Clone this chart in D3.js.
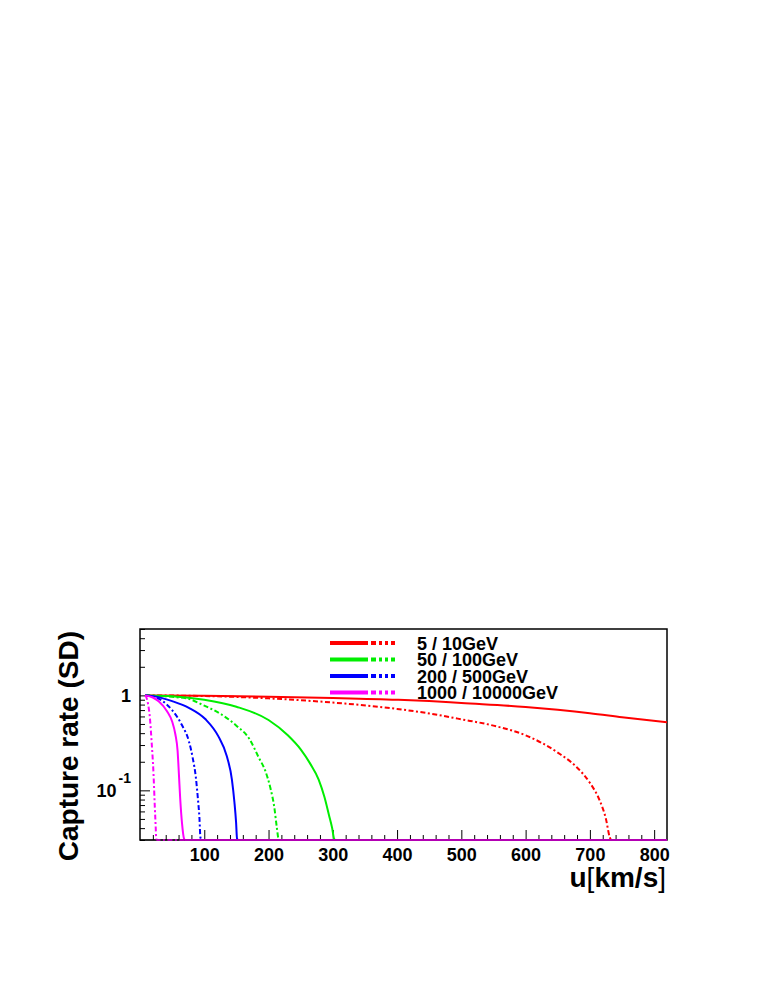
<!DOCTYPE html>
<html>
<head>
<meta charset="utf-8">
<script src="https://cdn.jsdelivr.net/npm/d3@7"></script>
<style>
  body { margin: 0; background: #fff; }
  svg { display: block; font-family: "Liberation Sans", Arial, Helvetica, sans-serif; }
</style>
</head>
<body>
<div id="chart"></div>
<script>
// legend entries: each line is "solid mass / dashed mass"
const legendLabels = ["5 / 10GeV", "50 / 100GeV", "200 / 500GeV", "1000 / 10000GeV"];

// u [km/s] and normalised capture rate (0 = kinematically forbidden)
const u5 = [8, 100, 200, 300, 400, 450, 500, 600, 650, 700, 750, 820];
const rate5 = [1, 0.99, 0.97, 0.94, 0.9, 0.87, 0.83, 0.755, 0.705, 0.65, 0.59, 0.52];

const u10 = [8, 100, 200, 300, 400, 450, 500, 550, 600, 650, 680, 700, 715, 725, 731, 734, 820];
const rate10 = [1, 0.985, 0.93, 0.84, 0.72, 0.645, 0.56, 0.48, 0.38, 0.25, 0.174, 0.12, 0.079, 0.05, 0.032, 0, 0];

const u50 = [8, 50, 100, 150, 200, 230, 250, 265, 278, 287, 294, 299, 302, 304, 820];
const rate50 = [1, 0.98, 0.9, 0.76, 0.55, 0.38, 0.27, 0.19, 0.13, 0.085, 0.055, 0.04, 0.031, 0, 0];

const u100 = [8, 50, 75, 100, 125, 150, 170, 185, 195, 203, 209, 213, 215.5, 218, 820];
const rate100 = [1, 0.965, 0.92, 0.78, 0.64, 0.48, 0.35, 0.22, 0.16, 0.105, 0.066, 0.04, 0.031, 0, 0];

const u200 = [8, 25, 50, 76, 102, 122, 135, 143, 147, 149.5, 151, 153, 820];
const rate200 = [1, 0.97, 0.87, 0.74, 0.56, 0.37, 0.23, 0.13, 0.074, 0.046, 0.031, 0, 0];

const u500 = [8, 25, 40, 50, 65, 76, 82, 87, 90, 92.5, 94, 96, 820];
const rate500 = [1, 0.95, 0.82, 0.7, 0.49, 0.33, 0.22, 0.135, 0.083, 0.051, 0.032, 0, 0];

const u1000 = [8, 20, 29, 42, 50, 55, 58.5, 60.5, 62.5, 65.5, 68.5, 70, 820];
const rate1000 = [1, 0.95, 0.865, 0.68, 0.53, 0.39, 0.26, 0.15, 0.083, 0.044, 0.031, 0, 0];

const u10000 = [8, 10, 12.7, 15.4, 18, 21, 23, 24.5, 25.2, 27, 820];
const rate10000 = [1, 0.95, 0.8, 0.58, 0.33, 0.15, 0.068, 0.04, 0.031, 0, 0];

// axis ticks
const xMajorTicks = [100, 200, 300, 400, 500, 600, 700, 800];
const yMajorTicks = [0.1, 1];
const yTickLabels = [["10", "-1"], ["1", ""]];

// styling
const colors = ["#ff0000", "#00ee00", "#0000ff", "#ff00ff"];
const dashPattern = "5,2.5,2,2.5";

const width = 758, height = 981;
const frame = {left: 140, right: 667, top: 629, bottom: 840};

const x = d3.scaleLinear().domain([0, 820]).range([frame.left, frame.right]);
const y = d3.scaleLog().domain([0.03, 5]).range([frame.bottom, frame.top]).clamp(true);
const yMin = y.domain()[0];

const svg = d3.select("#chart").append("svg")
    .attr("width", width)
    .attr("height", height)
    .style("background", "#fff");

svg.append("defs").append("clipPath").attr("id", "plot-clip")
    .append("rect")
    .attr("x", frame.left)
    .attr("y", frame.top)
    .attr("width", frame.right - frame.left)
    .attr("height", frame.bottom - frame.top + 1);

// frame first, curves go on top of it
svg.append("rect")
    .attr("x", frame.left)
    .attr("y", frame.top)
    .attr("width", frame.right - frame.left)
    .attr("height", frame.bottom - frame.top)
    .attr("fill", "none")
    .attr("stroke", "#000")
    .attr("stroke-width", 1.5);

// x ticks (ROOT style, pointing inwards)
let xMinor = d3.range(20, 820, 20).filter(v => v % 100 !== 0);

svg.append("g")
    .attr("transform", `translate(0,${frame.bottom})`)
    .call(d3.axisBottom(x).tickValues(xMinor).tickSize(-5).tickFormat(""))
    .call(g => g.select(".domain").remove());

svg.append("g")
    .attr("transform", `translate(0,${frame.bottom})`)
    .call(d3.axisBottom(x).tickValues(xMajorTicks).tickSize(-10).tickPadding(8).tickFormat(d3.format("d")))
    .call(g => g.select(".domain").remove())
    .call(g => g.selectAll("text")
        .attr("font-size", "18px")
        .attr("font-weight", "bold")
        .attr("font-family", "Liberation Sans, Arial, sans-serif")
        .attr("fill", "#000"));

// y ticks
let yMinor = [];
[0.01, 0.1, 1].forEach(dec => {
    for (let k = 2; k <= 9; k++) {
        let v = k * dec;
        if (v >= yMin && v <= 5.0001) yMinor.push(v);
    }
});

svg.append("g")
    .attr("transform", `translate(${frame.left},0)`)
    .call(d3.axisLeft(y).tickValues(yMinor).tickSize(-5).tickFormat(""))
    .call(g => g.select(".domain").remove());

let yAxisG = svg.append("g")
    .attr("transform", `translate(${frame.left},0)`)
    .call(d3.axisLeft(y).tickValues(yMajorTicks).tickSize(-10).tickPadding(9).tickFormat(""))
    .call(g => g.select(".domain").remove());

yAxisG.selectAll(".tick text")
    .attr("font-size", "18px")
    .attr("font-weight", "bold")
    .attr("font-family", "Liberation Sans, Arial, sans-serif")
    .attr("fill", "#000")
    .each(function(d, i) {
        let lab = yTickLabels[i];
        let t = d3.select(this);
        if (lab[1] === "") {
            t.text(lab[0]);
        } else {
            t.append("tspan").text(lab[0]);
            t.append("tspan").attr("dy", "-0.95em").attr("dx", "2").attr("font-size", "14px").text(lab[1]);
        }
    });

// curves in legend order: lightest first, heaviest (magenta) last
let curves = [
    {u: u5, r: rate5, color: colors[0], dashed: false},
    {u: u10, r: rate10, color: colors[0], dashed: true},
    {u: u50, r: rate50, color: colors[1], dashed: false},
    {u: u100, r: rate100, color: colors[1], dashed: true},
    {u: u200, r: rate200, color: colors[2], dashed: false},
    {u: u500, r: rate500, color: colors[2], dashed: true},
    {u: u1000, r: rate1000, color: colors[3], dashed: false},
    {u: u10000, r: rate10000, color: colors[3], dashed: true}
];

let line = d3.line()
    .x(d => x(d[0]))
    .y(d => y(Math.max(d[1], yMin)))
    .curve(d3.curveMonotoneX);

svg.append("g")
    .attr("clip-path", "url(#plot-clip)")
    .selectAll("path")
    .data(curves)
    .join("path")
    .attr("d", c => line(c.u.map((u, i) => [u, c.r[i]])))
    .attr("fill", "none")
    .attr("stroke", c => c.color)
    .attr("stroke-width", 2)
    .attr("stroke-dasharray", c => c.dashed ? dashPattern : null);

// bottom axis line shows through the clamped curves
svg.append("line")
    .attr("x1", frame.left).attr("x2", frame.right)
    .attr("y1", frame.bottom).attr("y2", frame.bottom)
    .attr("stroke", "#000")
    .attr("stroke-opacity", 0.4)
    .attr("stroke-width", 1.5);

// legend
let legend = svg.append("g");
legendLabels.forEach((lab, i) => {
    let ly = 643 + i * 16.5;
    legend.append("line")
        .attr("x1", 330).attr("x2", 368)
        .attr("y1", ly).attr("y2", ly)
        .attr("stroke", colors[i])
        .attr("stroke-width", 4);
    legend.append("line")
        .attr("x1", 371).attr("x2", 397)
        .attr("y1", ly).attr("y2", ly)
        .attr("stroke", colors[i])
        .attr("stroke-width", 4)
        .attr("stroke-dasharray", "5,3,3,3,3,3,4");
    legend.append("text")
        .attr("x", 417)
        .attr("y", ly + 6.5)
        .attr("font-size", "18px")
        .attr("font-weight", "bold")
        .attr("fill", "#000")
        .text(lab);
});

// axis titles
svg.append("text")
    .attr("transform", `translate(78,${frame.top + 2}) rotate(-90)`)
    .attr("text-anchor", "end")
    .attr("font-size", "28px")
    .attr("font-weight", "bold")
    .attr("fill", "#000")
    .text("Capture rate (SD)");

let xTitle = svg.append("text")
    .attr("x", frame.right - 1)
    .attr("y", 887)
    .attr("text-anchor", "end")
    .attr("font-size", "28px")
    .attr("font-weight", "bold")
    .attr("fill", "#000");
xTitle.append("tspan").text("u");
xTitle.append("tspan").attr("font-weight", "normal").text("[");
xTitle.append("tspan").text("km/s");
xTitle.append("tspan").attr("font-weight", "normal").text("]");
</script>
</body>
</html>
